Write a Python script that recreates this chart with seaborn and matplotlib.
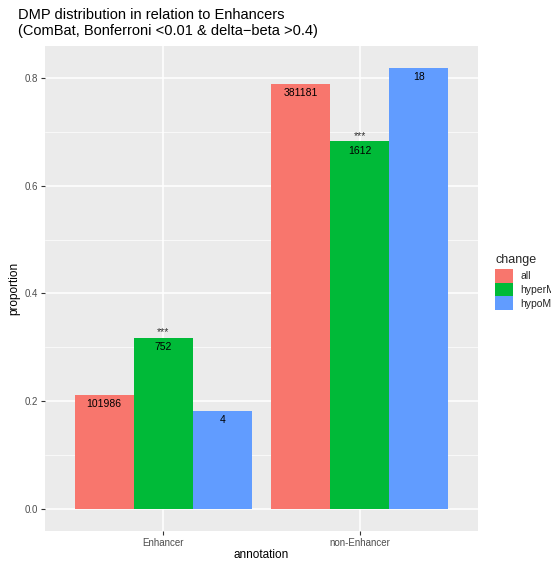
import pandas as pd
import numpy as np
import matplotlib.pyplot as plt
import seaborn as sns
from matplotlib.patches import Patch

# данные
annotation = ['Enhancer', 'non-Enhancer']
change = ['all', 'hyperM', 'hypoM']
prop_all = [0.211, 0.789]
prop_hyper = [0.318, 0.682]
prop_hypo = [0.182, 0.818]
count_all = ['101986', '381181']
count_hyper = ['752', '1612']
count_hypo = ['4', '18']

colors = ['#F8766D', '#00BA38', '#619CFF']

df = pd.DataFrame({
    'annotation': annotation * 3,
    'change': [c for c in change for _ in annotation],
    'proportion': prop_all + prop_hyper + prop_hypo,
})
counts = {'all': count_all, 'hyperM': count_hyper, 'hypoM': count_hypo}

sns.set_theme(style='darkgrid', rc={
    'axes.facecolor': '#EBEBEB',
    'grid.color': 'white',
    'axes.edgecolor': '#EBEBEB',
})
plt.rcParams['font.family'] = ['Liberation Sans', 'DejaVu Sans']

fig = plt.figure(figsize=(5.51, 5.62), dpi=100)
ax = fig.add_axes([0.0817, 0.0552, 0.7858, 0.8628])

sns.barplot(data=df, x='annotation', y='proportion', hue='change',
            order=annotation, hue_order=change, palette=colors,
            width=0.9, saturation=1, linewidth=0, ax=ax, legend=False)

# подписи над/внутри столбцов
for cont, ch in zip(ax.containers, change):
    for bar, lab in zip(cont, counts[ch]):
        cx = bar.get_x() + bar.get_width() / 2
        ax.annotate(lab, (cx, bar.get_height()), xytext=(0, -3),
                    textcoords='offset points', ha='center', va='top',
                    fontsize=7.5, color='black')
        if ch == 'hyperM':
            ax.annotate('***', (cx, bar.get_height()), xytext=(0, 0.5),
                        textcoords='offset points', ha='center', va='bottom',
                        fontsize=7.5, color='#333333')

ax.set_xlim(-0.6, 1.6)
ax.set_ylim(-0.041, 0.859)
ax.set_yticks([0.0, 0.2, 0.4, 0.6, 0.8])
ax.set_yticklabels(['0.0', '0.2', '0.4', '0.6', '0.8'])
ax.set_yticks([0.1, 0.3, 0.5, 0.7], minor=True)
ax.grid(which='major', color='white', linewidth=1.1)
ax.grid(which='minor', axis='y', color='white', linewidth=0.5)
ax.set_axisbelow(True)
ax.tick_params(axis='both', which='major', length=3, width=0.8, color='#333333',
               labelsize=7, labelcolor='#4D4D4D', pad=2, left=True, bottom=True)
ax.tick_params(axis='y', which='minor', length=0)
ax.set_xlabel('annotation', fontsize=8.5, color='black', labelpad=1)
ax.set_ylabel('proportion', fontsize=8.5, color='black', labelpad=3)
for s in ax.spines.values():
    s.set_visible(False)

fig.text(0.033, 0.985, 'DMP distribution in relation to Enhancers\n'
         '(ComBat, Bonferroni <0.01 & delta\u2212beta >0.4)',
         ha='left', va='top', fontsize=10.5, color='black', linespacing=1.1)

handles = [Patch(facecolor=c, edgecolor='none') for c in colors]
leg = fig.legend(handles, change, title='change', loc='upper left',
                 bbox_to_anchor=(0.899, 0.548), frameon=False, fontsize=7.5,
                 title_fontsize=9, handlelength=1.65, handleheight=1.65,
                 handletextpad=0.75, labelspacing=0.0, borderpad=0.0,
                 borderaxespad=0.0, alignment='left')
leg._legend_box.sep = 2

fig.savefig('out.png', dpi=100)
